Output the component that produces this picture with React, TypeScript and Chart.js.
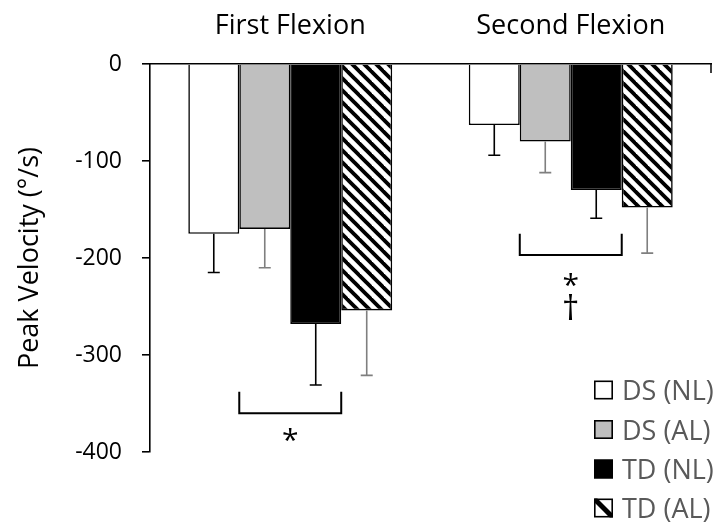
import React, { useEffect, useRef } from "react";
import { Chart, registerables } from "chart.js";

Chart.register(...registerables);

const categories = ["First Flexion", "Second Flexion"];
const seriesLabels = ["DS (NL)", "DS (AL)", "TD (NL)", "TD (AL)"];
const dsNL = [-175, -63];
const dsAL = [-170, -80];
const tdNL = [-268, -130];
const tdAL = [-254, -148];
const dsNLErr = [40, 31];
const dsALErr = [40, 32];
const tdNLErr = [63, 29];
const tdALErr = [67, 47];
const yMin = -400;
const yMax = 0;
const yStep = 100;
// significance brackets (data units)
const bracketCats = [0, 1];
const bracketTop = [-338, -175];
const bracketBottom = [-360, -197];
const markTexts = [["*"], ["*", "\u2020"]];
const markValues = [[-382], [-223, -251]];

const FONT = "'Open Sans', 'DejaVu Sans', sans-serif";

function makeHatch(ctx: CanvasRenderingContext2D) {
  const size = 12;
  const c = document.createElement("canvas");
  c.width = size;
  c.height = size;
  const g = c.getContext("2d")!;
  g.fillStyle = "#ffffff";
  g.fillRect(0, 0, size, size);
  g.strokeStyle = "#000000";
  g.lineWidth = 3.8;
  for (const o of [-size, 0, size]) {
    g.beginPath();
    g.moveTo(o - 3, -3);
    g.lineTo(o + size + 3, size + 3);
    g.stroke();
  }
  return ctx.createPattern(c, "repeat")!;
}

export default function App() {
  const ref = useRef<HTMLCanvasElement | null>(null);

  useEffect(() => {
    const canvas = ref.current!;
    const ctx0 = canvas.getContext("2d")!;
    const hatch = makeHatch(ctx0);
    const values = [dsNL, dsAL, tdNL, tdAL];
    const errs = [dsNLErr, dsALErr, tdNLErr, tdALErr];
    const errColors = ["#000000", "#7f7f7f", "#000000", "#7f7f7f"];
    const fills: any[] = ["#ffffff", "#bfbfbf", "#000000", hatch];

    const overlay = {
      id: "overlay",
      afterDatasetsDraw(chart: any) {
        const ctx = chart.ctx as CanvasRenderingContext2D;
        const ys = chart.scales.y;
        ctx.save();
        errs.forEach((arr, di) => {
          const meta = chart.getDatasetMeta(di);
          meta.data.forEach((bar: any, i: number) => {
            const v = values[di][i];
            const y0 = ys.getPixelForValue(v);
            const y1 = ys.getPixelForValue(v - arr[i]);
            ctx.strokeStyle = errColors[di];
            ctx.lineWidth = 1.6;
            ctx.beginPath();
            ctx.moveTo(bar.x, y0);
            ctx.lineTo(bar.x, y1);
            ctx.moveTo(bar.x - 6, y1);
            ctx.lineTo(bar.x + 6, y1);
            ctx.stroke();
          });
        });
        ctx.restore();
      },
      afterDraw(chart: any) {
        const ctx = chart.ctx as CanvasRenderingContext2D;
        const ys = chart.scales.y;
        const area = chart.chartArea;
        ctx.save();
        // right end tick of category axis
        ctx.strokeStyle = "#000";
        ctx.lineWidth = 1.5;
        ctx.beginPath();
        ctx.moveTo(area.right, area.top);
        ctx.lineTo(area.right, area.top + 9);
        ctx.stroke();

        // brackets
        bracketCats.forEach((cat, k) => {
          const b1: any = chart.getDatasetMeta(1).data[cat];
          const b3: any = chart.getDatasetMeta(3).data[cat];
          const xl = b1.x - b1.width / 2;
          const xr = b3.x - b3.width / 2;
          const yt = ys.getPixelForValue(bracketTop[k]);
          const yb = ys.getPixelForValue(bracketBottom[k]);
          ctx.strokeStyle = "#000";
          ctx.lineWidth = 2;
          ctx.beginPath();
          ctx.moveTo(xl, yt);
          ctx.lineTo(xl, yb);
          ctx.lineTo(xr, yb);
          ctx.lineTo(xr, yt);
          ctx.stroke();
          const cx = (xl + xr) / 2;
          ctx.fillStyle = "#000";
          ctx.textAlign = "center";
          ctx.textBaseline = "alphabetic";
          markTexts[k].forEach((t, j) => {
            ctx.font = `${t === "*" ? 30 : 34}px ${FONT}`;
            const m = ctx.measureText(t);
            const cy = ys.getPixelForValue(markValues[k][j]);
            const base = cy + (m.actualBoundingBoxAscent - m.actualBoundingBoxDescent) / 2;
            ctx.fillText(t, cx, base);
          });
        });

        // legend
        const lx = 594;
        const sq = 19;
        const rowY = [390, 429.5, 469, 508];
        ctx.font = `27px ${FONT}`;
        const capH = ctx.measureText("D").actualBoundingBoxAscent;
        seriesLabels.forEach((lab, i) => {
          const cy = rowY[i];
          const top = cy - sq / 2;
          if (i === 3) {
            ctx.fillStyle = "#fff";
            ctx.fillRect(lx, top, sq, sq);
            ctx.save();
            ctx.beginPath();
            ctx.rect(lx, top, sq, sq);
            ctx.clip();
            ctx.strokeStyle = "#000";
            ctx.lineWidth = 5;
            ctx.beginPath();
            ctx.moveTo(lx, top);
            ctx.lineTo(lx + sq, top + sq);
            ctx.stroke();
            ctx.restore();
          } else {
            ctx.fillStyle = fills[i];
            ctx.fillRect(lx, top, sq, sq);
          }
          ctx.strokeStyle = "#000";
          ctx.lineWidth = 1.6;
          ctx.strokeRect(lx + 0.8, top + 0.8, sq - 1.6, sq - 1.6);
          ctx.fillStyle = "#595959";
          ctx.textAlign = "left";
          ctx.textBaseline = "alphabetic";
          ctx.fillText(lab, lx + 28, cy + capH / 2);
        });
        ctx.restore();
      },
    };

    const chart = new Chart(canvas, {
      type: "bar",
      data: {
        labels: categories,
        datasets: values.map((vals, i) => ({
          label: seriesLabels[i],
          data: vals,
          backgroundColor: fills[i],
          borderColor: "#000000",
          borderWidth: 1.6,
          categoryPercentage: 0.727,
          barPercentage: 1.0,
        })),
      },
      options: {
        responsive: false,
        animation: false,
        devicePixelRatio: 1,
        layout: { padding: { left: 14, right: 10, top: 0, bottom: 77 } },
        plugins: {
          legend: { display: false },
          tooltip: { enabled: false },
        },
        scales: {
          x: {
            position: "top",
            offset: true,
            grid: { display: false, drawTicks: false },
            border: { display: true, color: "#000", width: 1.6 },
            ticks: {
              color: "#000",
              font: { family: FONT, size: 27 },
              padding: 21,
              maxRotation: 0,
            },
            afterFit(scale: any) {
              scale.height = 64;
            },
          },
          y: {
            min: yMin,
            max: yMax,
            ticks: {
              stepSize: yStep,
              color: "#000",
              font: { family: FONT, size: 23 },
              padding: 20,
            },
            grid: {
              drawOnChartArea: false,
              drawTicks: true,
              tickLength: 8,
              color: "#000",
              lineWidth: 1.6,
            },
            border: { display: true, color: "#000", width: 1.6 },
            title: {
              display: true,
              text: "Peak Velocity (\u00B0/s)",
              color: "#000",
              font: { family: FONT, size: 27 },
              padding: 0,
            },
            afterFit(scale: any) {
              scale.width = 136;
            },
          },
        },
      },
      plugins: [overlay],
    } as any);

    return () => chart.destroy();
  }, []);

  return (
    <div style={{ position: "absolute", left: 0, top: 0, width: 721, height: 529, background: "#fff" }}>
      <canvas ref={ref} width={721} height={529} style={{ width: 721, height: 529 }} />
    </div>
  );
}
